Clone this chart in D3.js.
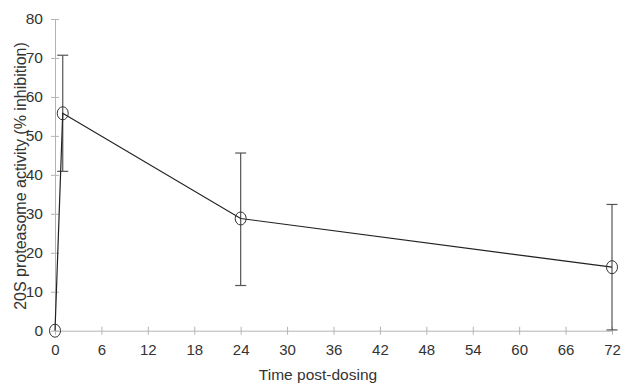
<!DOCTYPE html>
<html>
<head>
<meta charset="utf-8">
<script src="https://cdn.jsdelivr.net/npm/d3@7"></script>
<style>
  html, body { margin: 0; padding: 0; background: #fff; }
  svg { display: block; }
</style>
</head>
<body>
<div id="chart"></div>
<script>
// time points (hours) and mean % inhibition with error bar ends
const times = [0, 1, 24, 72];
const inhibition = [0, 55.8, 28.8, 16.3];
const errUpper = [0, 70.7, 45.6, 32.4];
const errLower = [0, 40.9, 11.6, 0.2];
const xTicks = [0, 6, 12, 18, 24, 30, 36, 42, 48, 54, 60, 66, 72];
const yTicks = [0, 10, 20, 30, 40, 50, 60, 70, 80];

const width = 628, height = 386;
const margin = { left: 55, right: 16, top: 19, bottom: 55 };

const svg = d3.select("#chart").append("svg")
  .attr("width", width)
  .attr("height", height);

const x = d3.scaleLinear().domain([0, 72]).range([margin.left, 612]);
const y = d3.scaleLinear().domain([0, 80]).range([330.7, 19]);

const axisColor = "#b4b4b4";
const font = '"Liberation Sans", Arial, sans-serif';

// axes
const yAxis = svg.append("g")
  .attr("transform", `translate(${margin.left},0)`)
  .call(d3.axisLeft(y).tickValues(yTicks).tickSize(0).tickPadding(12));
yAxis.select(".domain").attr("stroke", axisColor);
yAxis.selectAll(".tick line")
  .attr("x1", -4).attr("x2", 4)
  .attr("stroke", axisColor);
yAxis.selectAll("text")
  .attr("fill", "#333")
  .attr("font-family", font)
  .attr("font-size", "15.5px");

const xAxis = svg.append("g")
  .attr("transform", `translate(0,${y(0)})`)
  .call(d3.axisBottom(x).tickValues(xTicks).tickSize(0).tickPadding(14));
xAxis.select(".domain").attr("stroke", axisColor);
xAxis.selectAll(".tick line")
  .attr("y1", -4).attr("y2", 4)
  .attr("stroke", axisColor);
xAxis.selectAll("text")
  .attr("fill", "#333")
  .attr("font-family", font)
  .attr("font-size", "15px");

// axis titles
svg.append("text")
  .attr("x", 318)
  .attr("y", 380)
  .attr("text-anchor", "middle")
  .attr("fill", "#333")
  .attr("font-family", font)
  .attr("font-size", "15.5px")
  .text("Time post-dosing");

svg.append("text")
  .attr("transform", "translate(26,176) rotate(-90)")
  .attr("text-anchor", "middle")
  .attr("fill", "#333")
  .attr("font-family", font)
  .attr("font-size", "16px")
  .text("20S proteasome activity (% inhibition)");

const pts = times.map((t, i) => ({ t, v: inhibition[i], hi: errUpper[i], lo: errLower[i] }));

// error bars
const bars = svg.append("g")
  .selectAll("g")
  .data(pts.filter(d => d.hi !== d.lo))
  .join("g")
  .attr("stroke", "#555")
  .attr("stroke-width", 1.2);
bars.append("line")
  .attr("x1", d => x(d.t)).attr("x2", d => x(d.t))
  .attr("y1", d => y(d.hi)).attr("y2", d => y(d.lo));
bars.append("line")
  .attr("x1", d => x(d.t) - 5.5).attr("x2", d => x(d.t) + 5.5)
  .attr("y1", d => y(d.hi)).attr("y2", d => y(d.hi));
bars.append("line")
  .attr("x1", d => x(d.t) - 5.5).attr("x2", d => x(d.t) + 5.5)
  .attr("y1", d => y(d.lo)).attr("y2", d => y(d.lo));

// line
svg.append("path")
  .datum(pts)
  .attr("fill", "none")
  .attr("stroke", "#222")
  .attr("stroke-width", 1.2)
  .attr("d", d3.line().x(d => x(d.t)).y(d => y(d.v)));

// markers
svg.append("g")
  .selectAll("ellipse")
  .data(pts)
  .join("ellipse")
  .attr("cx", d => x(d.t))
  .attr("cy", d => y(d.v))
  .attr("rx", 5.5)
  .attr("ry", 6.5)
  .attr("fill", "none")
  .attr("stroke", "#333")
  .attr("stroke-width", 1);
</script>
</body>
</html>
